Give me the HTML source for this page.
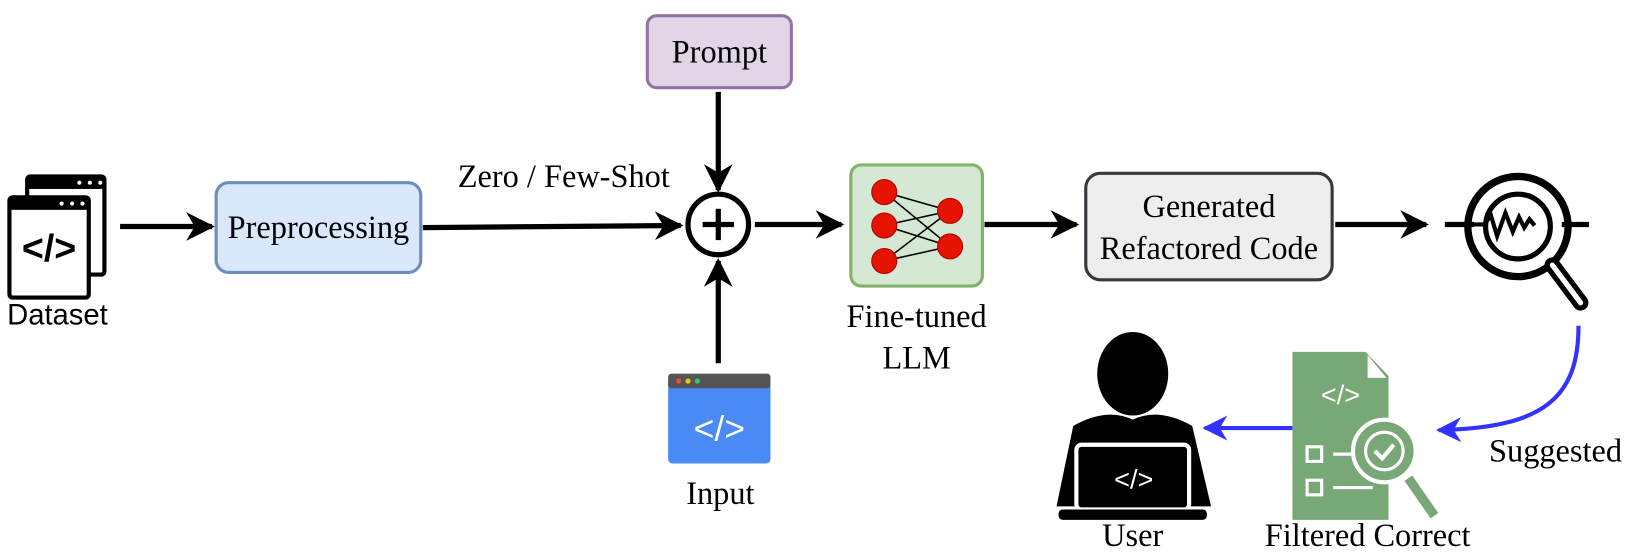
<!DOCTYPE html>
<html><head><style>body{margin:0;background:#fff}svg{display:block}</style></head><body>
<svg width="1637" height="558" viewBox="0 0 1568 534.5" xmlns="http://www.w3.org/2000/svg">
<defs>
<marker id="ab" viewBox="0 0 10 10" refX="9" refY="5" markerWidth="5.5" markerHeight="5.5" orient="auto"><path d="M0,0 L10,5 L0,10 L3,5z" fill="#000"/></marker>
<marker id="abl" viewBox="0 0 10 10" refX="9" refY="5" markerWidth="6" markerHeight="6" orient="auto"><path d="M0,0 L10,5 L0,10 L3,5z" fill="#3333ff"/></marker>
</defs>
<g font-family="Liberation Serif, serif" font-size="31" fill="#000" text-anchor="middle">
<!-- Dataset icon -->
<rect x="26" y="169" width="74" height="94" rx="3" fill="#fff" stroke="#000" stroke-width="4"/>
<rect x="26" y="169" width="74" height="12" fill="#000"/>
<rect x="9" y="189" width="76" height="96" rx="3" fill="#fff" stroke="#000" stroke-width="4"/>
<rect x="9" y="189" width="76" height="12" fill="#000"/>
<g fill="#fff"><circle cx="59" cy="195" r="2"/><circle cx="69" cy="195" r="2"/><circle cx="79" cy="195" r="2"/><circle cx="76" cy="175" r="2"/><circle cx="86" cy="175" r="2"/><circle cx="96" cy="175" r="2"/></g>
<text x="47" y="250" font-family="Liberation Sans, sans-serif" font-weight="bold" font-size="36">&lt;/&gt;</text>
<text x="55" y="311" font-size="28" font-family="Liberation Sans, sans-serif">Dataset</text>
<line x1="115" y1="217" x2="203" y2="217" stroke="#000" stroke-width="5" marker-end="url(#ab)"/>
<rect x="207" y="175" width="196" height="86" rx="12" fill="#dae8fc" stroke="#6c8ebf" stroke-width="3"/>
<text x="305" y="228">Preprocessing</text>
<line x1="405" y1="218" x2="652" y2="216" stroke="#000" stroke-width="5" marker-end="url(#ab)"/>
<text x="540" y="179">Zero / Few-Shot</text>
<!-- Prompt -->
<rect x="620" y="15" width="138" height="69" rx="9" fill="#e1d5e7" stroke="#9673a6" stroke-width="3"/>
<text x="689" y="60">Prompt</text>
<line x1="688" y1="88" x2="688" y2="182" stroke="#000" stroke-width="5" marker-end="url(#ab)"/>
<circle cx="688" cy="215" r="29" fill="#fff" stroke="#000" stroke-width="5"/>
<line x1="673" y1="215" x2="703" y2="215" stroke="#000" stroke-width="5"/>
<line x1="688" y1="200" x2="688" y2="230" stroke="#000" stroke-width="5"/>
<line x1="688" y1="348" x2="688" y2="250" stroke="#000" stroke-width="5" marker-end="url(#ab)"/>
<!-- Input icon -->
<rect x="640" y="358" width="98" height="86" rx="4" fill="#4a8af4"/>
<rect x="640" y="358" width="98" height="14" rx="3" fill="#555"/>
<circle cx="650" cy="365" r="2.5" fill="#e74c3c"/><circle cx="659" cy="365" r="2.5" fill="#f1c40f"/><circle cx="668" cy="365" r="2.5" fill="#2ecc71"/>
<text x="689" y="422" font-family="Liberation Sans, sans-serif" font-size="34" fill="#fff">&lt;/&gt;</text>
<text x="690" y="483">Input</text>
<line x1="723" y1="215" x2="806" y2="215" stroke="#000" stroke-width="5" marker-end="url(#ab)"/>
<!-- LLM -->
<rect x="815" y="158" width="126" height="116" rx="10" fill="#d5e8d4" stroke="#82b366" stroke-width="3"/>
<g stroke="#000" stroke-width="1.5"><line x1="847" y1="184" x2="910" y2="202"/><line x1="847" y1="184" x2="910" y2="236"/><line x1="847" y1="216" x2="910" y2="202"/><line x1="847" y1="216" x2="910" y2="236"/><line x1="847" y1="250" x2="910" y2="202"/><line x1="847" y1="250" x2="910" y2="236"/></g>
<g fill="#e51400" stroke="#b20000"><circle cx="847" cy="184" r="12"/><circle cx="847" cy="216" r="12"/><circle cx="847" cy="250" r="12"/><circle cx="910" cy="202" r="12"/><circle cx="910" cy="236" r="12"/></g>
<text x="878" y="313">Fine-tuned</text>
<text x="878" y="353">LLM</text>
<line x1="943" y1="215" x2="1031" y2="215" stroke="#000" stroke-width="5" marker-end="url(#ab)"/>
<rect x="1040" y="166" width="236" height="102" rx="14" fill="#eeeeee" stroke="#36393d" stroke-width="3"/>
<text x="1158" y="208">Generated</text>
<text x="1158" y="248">Refactored Code</text>
<line x1="1279" y1="215" x2="1366" y2="215" stroke="#000" stroke-width="5" marker-end="url(#ab)"/>
<!-- magnifier -->
<line x1="1384" y1="215" x2="1412" y2="215" stroke="#000" stroke-width="5"/>
<line x1="1496" y1="215" x2="1522" y2="215" stroke="#000" stroke-width="5"/>
<circle cx="1454" cy="217" r="48" fill="none" stroke="#000" stroke-width="7"/>
<circle cx="1454" cy="217" r="31" fill="none" stroke="#000" stroke-width="5"/>
<line x1="1487" y1="254" x2="1514" y2="290" stroke="#000" stroke-width="15" stroke-linecap="round"/>
<line x1="1487" y1="254" x2="1514" y2="290" stroke="#fff" stroke-width="5" stroke-linecap="round"/>
<polyline points="1410,215 1422,215 1428,206 1434,226 1442,204 1449,222 1455,208 1460,218 1465,210 1470,216" fill="none" stroke="#000" stroke-width="4"/>
<!-- blue curve -->
<path d="M1512,312 C1512,380 1480,410 1378,412" fill="none" stroke="#3333ff" stroke-width="4" marker-end="url(#abl)"/>
<text x="1490" y="442">Suggested</text>
<!-- doc icon -->
<path d="M1238,337 L1308,337 L1330,360 L1330,498 L1238,498 Z" fill="#79a877"/>
<path d="M1310,340 L1310,362 L1328,362 Z" fill="#fff"/>
<text x="1284" y="387" font-family="Liberation Sans, sans-serif" font-size="26" fill="#fff">&lt;/&gt;</text>
<g fill="none" stroke="#fff" stroke-width="3"><rect x="1252" y="428" width="14" height="14"/><rect x="1252" y="460" width="14" height="14"/><line x1="1277" y1="435" x2="1300" y2="435"/><line x1="1277" y1="467" x2="1315" y2="467"/></g>
<circle cx="1326" cy="432" r="30" fill="#79a877" stroke="#fff" stroke-width="4"/>
<circle cx="1326" cy="432" r="18" fill="none" stroke="#fff" stroke-width="3"/>
<polyline points="1317,432 1324,439 1335,426" fill="none" stroke="#fff" stroke-width="4"/>
<line x1="1349" y1="458" x2="1374" y2="494" stroke="#79a877" stroke-width="9"/>
<line x1="1238" y1="410" x2="1154" y2="410" stroke="#3333ff" stroke-width="4" marker-end="url(#abl)"/>
<!-- user icon -->
<ellipse cx="1085" cy="358" rx="34" ry="40" fill="#000"/>
<path d="M1028,408 Q1060,390 1085,402 Q1110,390 1142,408 L1160,485 L1012,485 Z" fill="#000"/>
<rect x="1031" y="426" width="108" height="62" rx="5" fill="#000" stroke="#fff" stroke-width="4"/>
<rect x="1014" y="488" width="142" height="10" rx="4" fill="#000"/>
<text x="1086" y="468" font-family="Liberation Sans, sans-serif" font-size="26" fill="#fff">&lt;/&gt;</text>
<text x="1085" y="523">User</text>
<text x="1310" y="523">Filtered Correct</text>
</g>
</svg>
</body></html>
